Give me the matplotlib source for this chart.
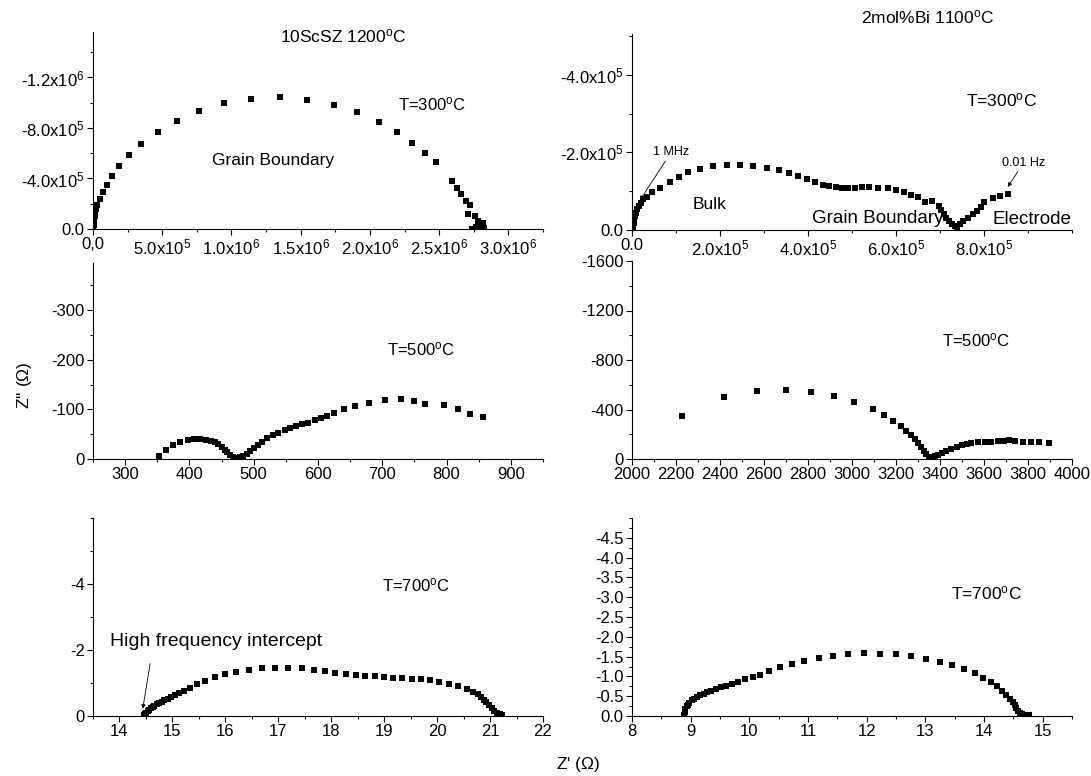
import matplotlib
matplotlib.use("Agg")
import matplotlib.pyplot as plt
from matplotlib.ticker import FixedLocator, FixedFormatter, MultipleLocator

plt.rcParams['font.family'] = ['Liberation Sans', 'DejaVu Sans']
plt.rcParams['mathtext.fontset'] = 'custom'
plt.rcParams['mathtext.rm'] = 'Liberation Sans'
plt.rcParams['mathtext.it'] = 'Liberation Sans:italic'
plt.rcParams['mathtext.bf'] = 'Liberation Sans:bold'

# ---------------- data ----------------
# 10ScSZ 1200C, T=300C  (Z' , Z'' in ohm)
scsz300_re = [0.002e6, 0.003e6, 0.005e6, 0.007e6, 0.010e6, 0.013e6, 0.018e6, 0.024e6, 0.030e6,
              0.048e6, 0.071e6, 0.098e6, 0.136e6, 0.189e6, 0.260e6, 0.348e6, 0.467e6, 0.604e6,
              0.765e6, 0.947e6, 1.141e6, 1.351e6, 1.543e6, 1.737e6, 1.909e6, 2.063e6, 2.194e6,
              2.306e6, 2.396e6, 2.480e6, 2.594e6, 2.630e6, 2.661e6, 2.697e6, 2.720e6, 2.709e6,
              2.756e6, 2.780e6, 2.792e6, 2.809e6, 2.768e6, 2.827e6, 2.739e6, 2.800e6, 2.815e6]
scsz300_im = [-0.003e6, -0.012e6, -0.030e6, -0.050e6, -0.075e6, -0.100e6, -0.130e6, -0.160e6, -0.190e6,
              -0.238e6, -0.293e6, -0.350e6, -0.421e6, -0.502e6, -0.586e6, -0.677e6, -0.771e6, -0.857e6,
              -0.936e6, -0.996e6, -1.030e6, -1.043e6, -1.025e6, -0.983e6, -0.923e6, -0.844e6, -0.769e6,
              -0.682e6, -0.604e6, -0.533e6, -0.378e6, -0.328e6, -0.274e6, -0.221e6, -0.189e6, -0.120e6,
              -0.101e6, -0.066e6, -0.040e6, -0.018e6, -0.013e6, -0.008e6, -0.002e6, -0.030e6, -0.050e6]

# 2mol%Bi 1100C, T=300C
bi300_re = [0.02e5, 0.03e5, 0.04e5, 0.05e5, 0.07e5, 0.09e5, 0.12e5, 0.16e5, 0.21e5, 0.26e5, 0.35e5,
            0.45e5, 0.64e5, 0.86e5, 1.07e5, 1.28e5, 1.55e5, 1.84e5, 2.15e5, 2.46e5, 2.76e5, 3.06e5,
            3.33e5, 3.56e5, 3.78e5, 3.98e5, 4.16e5, 4.33e5, 4.48e5, 4.63e5, 4.77e5, 4.91e5, 5.06e5,
            5.22e5, 5.39e5, 5.60e5, 5.81e5, 5.99e5, 6.19e5, 6.35e5, 6.51e5, 6.66e5, 6.81e5, 6.97e5,
            7.03e5, 7.08e5, 7.14e5, 7.21e5, 7.27e5, 7.33e5, 7.39e5, 7.46e5, 7.53e5, 7.63e5, 7.74e5,
            7.84e5, 7.94e5, 8.00e5, 8.20e5, 8.37e5, 8.54e5]
bi300_im = [-0.02e5, -0.10e5, -0.19e5, -0.27e5, -0.36e5, -0.44e5, -0.53e5, -0.62e5, -0.70e5, -0.79e5, -0.85e5,
            -0.97e5, -1.09e5, -1.23e5, -1.37e5, -1.50e5, -1.58e5, -1.65e5, -1.68e5, -1.68e5, -1.65e5, -1.60e5,
            -1.54e5, -1.46e5, -1.38e5, -1.31e5, -1.23e5, -1.17e5, -1.13e5, -1.10e5, -1.09e5, -1.09e5, -1.09e5,
            -1.10e5, -1.10e5, -1.09e5, -1.07e5, -1.02e5, -0.97e5, -0.91e5, -0.85e5, -0.73e5, -0.74e5, -0.62e5,
            -0.51e5, -0.41e5, -0.32e5, -0.24e5, -0.15e5, -0.10e5, -0.09e5, -0.15e5, -0.24e5, -0.32e5, -0.41e5,
            -0.50e5, -0.60e5, -0.72e5, -0.83e5, -0.87e5, -0.92e5]

# 10ScSZ, T=500C
scsz500_re = [353, 364, 375, 386, 397, 407, 417, 426, 434, 440, 445, 451, 455, 459, 463, 467, 473, 478,
              483, 489, 494, 500, 506, 513, 520, 530, 538, 548, 557, 566, 575, 584, 595, 604, 614, 625,
              640, 657, 680, 704, 729, 750, 766, 796, 817, 836, 857]
scsz500_im = [-6, -18, -28, -34, -38, -40, -40, -39, -37, -34, -30, -25, -19, -14, -9, -5, -3, -4,
              -7, -11, -16, -22, -28, -35, -42, -48, -53, -58, -63, -67, -71, -73, -78, -82, -86, -93,
              -100, -107, -113, -118, -120, -117, -111, -108, -101, -91, -85]

# 2mol%Bi, T=500C
bi500_re = [2225, 2420, 2570, 2700, 2815, 2920, 3010, 3095, 3145, 3186, 3221, 3247, 3269, 3285, 3300,
            3315, 3327, 3338, 3348, 3361, 3376, 3391, 3410, 3429, 3452, 3475, 3498, 3521, 3543, 3571,
            3604, 3634, 3665, 3692, 3714, 3741, 3779, 3814, 3850, 3894]
bi500_im = [-345, -498, -552, -558, -541, -509, -458, -407, -356, -309, -267, -229, -194, -162, -132,
            -99, -67, -40, -20, -12, -22, -36, -51, -67, -83, -99, -113, -124, -132, -137,
            -140, -140, -143, -146, -151, -143, -137, -137, -135, -132]

# 10ScSZ, T=700C
scsz700_re = [14.47, 14.49, 14.51, 14.54, 14.56, 14.60, 14.63, 14.66, 14.70, 14.75, 14.80, 14.85, 14.91,
              14.98, 15.05, 15.13, 15.21, 15.33, 15.47, 15.61, 15.80, 15.99, 16.21, 16.44, 16.69, 16.94,
              17.19, 17.44, 17.67, 17.88, 18.08, 18.28, 18.47, 18.64, 18.82, 18.99, 19.17, 19.34, 19.52,
              19.69, 19.87, 20.04, 20.23, 20.40, 20.57, 20.68, 20.77, 20.83, 20.88, 20.93, 20.98, 21.03,
              21.08, 21.13, 21.18, 21.22]
scsz700_im = [-0.02, -0.05, -0.10, -0.15, -0.19, -0.23, -0.27, -0.31, -0.35, -0.39, -0.43, -0.47, -0.52,
              -0.58, -0.64, -0.70, -0.76, -0.86, -0.96, -1.06, -1.18, -1.26, -1.34, -1.39, -1.44, -1.46,
              -1.46, -1.44, -1.40, -1.36, -1.31, -1.28, -1.24, -1.22, -1.20, -1.18, -1.16, -1.15, -1.13,
              -1.11, -1.08, -1.04, -0.98, -0.90, -0.82, -0.74, -0.66, -0.58, -0.49, -0.41, -0.32, -0.23,
              -0.15, -0.09, -0.05, -0.02]

# 2mol%Bi, T=700C
bi700_re = [8.89, 8.90, 8.91, 8.93, 8.96, 8.98, 9.02, 9.06, 9.11, 9.16, 9.22, 9.28, 9.35, 9.43, 9.51,
            9.60, 9.70, 9.81, 9.93, 10.06, 10.19, 10.34, 10.53, 10.73, 10.94, 11.18, 11.42, 11.69,
            11.96, 12.23, 12.50, 12.76, 13.01, 13.25, 13.46, 13.66, 13.84, 13.99, 14.12, 14.23, 14.31,
            14.38, 14.44, 14.49, 14.52, 14.55, 14.58, 14.61, 14.65, 14.71, 14.76]
bi700_im = [-0.03, -0.11, -0.17, -0.24, -0.29, -0.34, -0.40, -0.44, -0.48, -0.52, -0.56, -0.60, -0.63,
            -0.67, -0.72, -0.77, -0.82, -0.87, -0.93, -0.98, -1.04, -1.14, -1.23, -1.32, -1.39, -1.46,
            -1.52, -1.56, -1.58, -1.57, -1.56, -1.51, -1.44, -1.36, -1.28, -1.18, -1.08, -0.97, -0.86,
            -0.75, -0.64, -0.54, -0.44, -0.36, -0.28, -0.20, -0.13, -0.08, -0.05, -0.03, -0.03]

# tick values / labels
tl_xticks = [0, 5e5, 1e6, 1.5e6, 2e6, 2.5e6, 3e6]
tl_xlabels = ['0,0', '5.0x10$^{5}$', '1.0x10$^{6}$', '1.5x10$^{6}$', '2.0x10$^{6}$', '2.5x10$^{6}$', '3.0x10$^{6}$']
tl_yticks = [0, -4e5, -8e5, -1.2e6]
tl_ylabels = ['0.0', '-4.0x10$^{5}$', '-8.0x10$^{5}$', '-1.2x10$^{6}$']

tr_xticks = [0, 2e5, 4e5, 6e5, 8e5]
tr_xlabels = ['0.0', '2.0x10$^{5}$', '4.0x10$^{5}$', '6.0x10$^{5}$', '8.0x10$^{5}$']
tr_yticks = [0, -2e5, -4e5]
tr_ylabels = ['0.0', '-2.0x10$^{5}$', '-4.0x10$^{5}$']

ml_xticks = [300, 400, 500, 600, 700, 800, 900]
ml_yticks = [0, -100, -200, -300]
mr_xticks = [2000, 2200, 2400, 2600, 2800, 3000, 3200, 3400, 3600, 3800, 4000]
mr_yticks = [0, -400, -800, -1200, -1600]
bl_xticks = [14, 15, 16, 17, 18, 19, 20, 21, 22]
bl_yticks = [0, -2, -4]
br_xticks = [8, 9, 10, 11, 12, 13, 14, 15]
br_yticks = [0.0, -0.5, -1.0, -1.5, -2.0, -2.5, -3.0, -3.5, -4.0, -4.5]

# ---------------- figure ----------------
W, H = 1091, 776
fig = plt.figure(figsize=(W / 100, H / 100), dpi=100)


def add_axes(x0, x1, ytop, ybot):
    return fig.add_axes([x0 / W, 1 - ybot / H, (x1 - x0) / W, (ybot - ytop) / H])


LX0, LX1 = 93, 543
RX0, RX1 = 632, 1072
ax_tl = add_axes(LX0, LX1, 32, 229)
ax_tr = add_axes(RX0, RX1, 34, 230)
ax_ml = add_axes(LX0, LX1, 263, 459)
ax_mr = add_axes(RX0, RX1, 261, 459)
ax_bl = add_axes(LX0, LX1, 518, 716)
ax_br = add_axes(RX0, RX1, 518, 716)

FS_TICK = 12


def style(ax, xlim, ylim, xt, xl, xminor, yt, yl, yminor):
    for s in ['top', 'right']:
        ax.spines[s].set_visible(False)
    for s in ['left', 'bottom']:
        ax.spines[s].set_linewidth(0.8)
    ax.set_xlim(*xlim)
    ax.set_ylim(*ylim)
    ax.xaxis.set_major_locator(FixedLocator(xt))
    ax.xaxis.set_major_formatter(FixedFormatter(xl))
    ax.yaxis.set_major_locator(FixedLocator(yt))
    ax.yaxis.set_major_formatter(FixedFormatter(yl))
    ax.xaxis.set_minor_locator(MultipleLocator(xminor))
    ax.yaxis.set_minor_locator(MultipleLocator(yminor))
    ax.tick_params(which='major', direction='out', length=4, width=0.8, labelsize=FS_TICK, pad=2)
    ax.tick_params(which='minor', direction='out', length=2.5, width=0.8)


mk = dict(marker='s', ls='none', color='black', ms=3.7, mew=0)

ax_tl.plot(scsz300_re, scsz300_im, **mk)
style(ax_tl, (0, 3.25e6), (0, -1.56e6), tl_xticks, tl_xlabels, 2.5e5, tl_yticks, tl_ylabels, 2e5)

ax_tr.plot(bi300_re, bi300_im, **mk)
style(ax_tr, (0, 1.0e6), (0, -5.05e5), tr_xticks, tr_xlabels, 1e5, tr_yticks, tr_ylabels, 1e5)

ax_ml.plot(scsz500_re, scsz500_im, **mk)
style(ax_ml, (250, 950), (0, -395), ml_xticks, [str(v) for v in ml_xticks], 50,
      ml_yticks, [str(v) for v in ml_yticks], 50)

ax_mr.plot(bi500_re, bi500_im, **mk)
style(ax_mr, (2000, 4000), (0, -1600), mr_xticks, [str(v) for v in mr_xticks], 100,
      mr_yticks, [str(v) for v in mr_yticks], 200)

ax_bl.plot(scsz700_re, scsz700_im, **mk)
style(ax_bl, (13.5, 22), (0, -6), bl_xticks, [str(v) for v in bl_xticks], 0.5,
      bl_yticks, [str(v) for v in bl_yticks], 1)

ax_br.plot(bi700_re, bi700_im, **mk)
style(ax_br, (8, 15.5), (0, -5.0), br_xticks, [str(v) for v in br_xticks], 0.5,
      br_yticks, ['%.1f' % v if v != 0 else '0.0' for v in br_yticks], 0.25)

# ---------------- texts ----------------
deg = '$^{\\rm o}$'
fig.text(343 / W, 1 - 36 / H, '10ScSZ 1200' + deg + 'C', ha='center', va='center', fontsize=12.5)
fig.text(928 / W, 1 - 17 / H, '2mol%Bi 1100' + deg + 'C', ha='center', va='center', fontsize=12.5)

ax_tl.text(2.45e6, -0.986e6, 'T=300' + deg + 'C', ha='center', va='center', fontsize=12)
ax_tl.text(1.30e6, -0.541e6, 'Grain Boundary', ha='center', va='center', fontsize=12.5)

ax_tr.text(8.39e5, -3.33e5, 'T=300' + deg + 'C', ha='center', va='center', fontsize=12.5)
ax_tr.text(1.77e5, -0.66e5, 'Bulk', ha='center', va='center', fontsize=12.5)
ax_tr.text(5.59e5, -0.30e5, 'Grain Boundary', ha='center', va='center', fontsize=13.5)
ax_tr.text(9.09e5, -0.26e5, 'Electrode', ha='center', va='center', fontsize=13.5)
arrowprops = dict(arrowstyle='-|>', color='black', lw=0.6, mutation_scale=6, shrinkA=0, shrinkB=0)
ax_tr.annotate('1 MHz', xy=(0.18e5, -0.77e5), xytext=(0.89e5, -2.0e5), ha='center', va='center',
               fontsize=9, arrowprops=arrowprops)
ax_tr.annotate('0.01 Hz', xy=(8.54e5, -1.11e5), xytext=(8.9e5, -1.73e5), ha='center', va='center',
               fontsize=9, arrowprops=arrowprops)

ax_ml.text(760, -221, 'T=500' + deg + 'C', ha='center', va='center', fontsize=12)
ax_mr.text(3564, -962, 'T=500' + deg + 'C', ha='center', va='center', fontsize=12)

ax_bl.text(19.6, -3.96, 'T=700' + deg + 'C', ha='center', va='center', fontsize=12)
ax_bl.annotate('High frequency intercept', xy=(14.44, -0.22), xytext=(13.82, -2.26),
               ha='left', va='center', fontsize=14, arrowprops=dict(arrowstyle='-|>', color='black',
               lw=0.6, mutation_scale=6, shrinkA=8, shrinkB=0, relpos=(0.2, 0.0)))
ax_br.text(14.05, -3.11, 'T=700' + deg + 'C', ha='center', va='center', fontsize=12.5)

fig.text(25 / W, 1 - 385 / H, "Z'' ($\\Omega$)", rotation=90, ha='center', va='center', fontsize=12.5)
fig.text(578 / W, 1 - 764 / H, "Z' ($\\Omega$)", ha='center', va='center', fontsize=12.5)

fig.savefig('out.png', dpi=100)
